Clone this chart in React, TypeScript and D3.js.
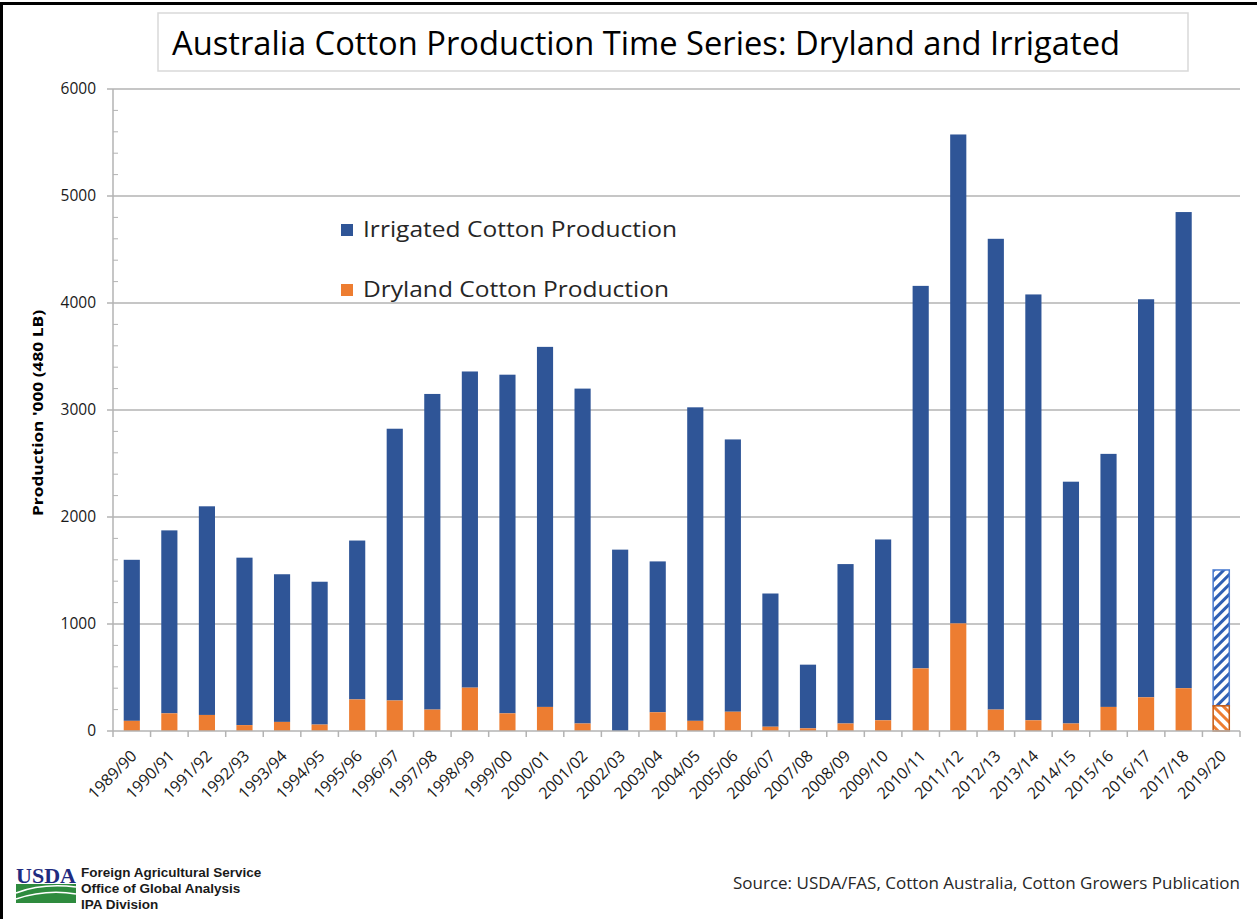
import React from 'react';
import * as d3 from 'd3';

// Australia cotton production, '000 480 lb bales
const seasons = [
  '1989/90', '1990/91', '1991/92', '1992/93', '1993/94', '1994/95', '1995/96', '1996/97',
  '1997/98', '1998/99', '1999/00', '2000/01', '2001/02', '2002/03', '2003/04', '2004/05',
  '2005/06', '2006/07', '2007/08', '2008/09', '2009/10', '2010/11', '2011/12', '2012/13',
  '2013/14', '2014/15', '2015/16', '2016/17', '2017/18', '2019/20',
];
const dryland = [
  95, 165, 150, 55, 85, 60, 295, 285, 200, 405, 165, 225, 70, 0, 175, 95,
  180, 40, 25, 70, 100, 585, 1005, 200, 100, 70, 225, 315, 400, 235,
];
const irrigated = [
  1505, 1710, 1950, 1565, 1380, 1335, 1485, 2540, 2950, 2955, 3165, 3365, 3130, 1695, 1410, 2930,
  2545, 1245, 595, 1490, 1690, 3575, 4570, 4400, 3980, 2260, 2365, 3720, 4450, 1270,
];
const projected = ['2019/20'];
const yTicks = [0, 1000, 2000, 3000, 4000, 5000, 6000];
const legendItems = ['Irrigated Cotton Production', 'Dryland Cotton Production'];

const W = 1257;
const H = 919;
const BLUE = '#2f5597';
const ORANGE = '#ed7d31';
const GRID = '#b3b3b3';
const FONT = "'Open Sans', sans-serif";

const App = () => {
  const x = d3.scaleBand().domain(seasons).range([113, 1240]).paddingInner(0.57).paddingOuter(0.285);
  const y = d3.scaleLinear().domain([0, 6000]).range([731, 89]);
  const minor = d3.range(0, 6001, 200).filter((v) => v % 1000 !== 0);
  const step = x.step();

  return (
    <div style={{ position: 'absolute', left: 0, top: 0 }}>
      <svg width={W} height={H} style={{ display: 'block', background: '#fff' }}>
        <defs>
          <pattern id="hatchBlue" width="7" height="7" patternUnits="userSpaceOnUse" patternTransform="rotate(45)">
            <rect width="7" height="7" fill="#fff" />
            <rect width="3" height="7" fill="#2f5fb3" />
          </pattern>
          <pattern id="hatchOrange" width="7" height="7" patternUnits="userSpaceOnUse" patternTransform="rotate(-45)">
            <rect width="7" height="7" fill="#fff" />
            <rect width="3" height="7" fill={ORANGE} />
          </pattern>
        </defs>

        {/* frame */}
        <line x1={0} x2={W} y1={3.5} y2={3.5} stroke="#000" strokeWidth={3} />
        <line x1={1.5} x2={1.5} y1={2} y2={H} stroke="#000" strokeWidth={3} />

        {/* title */}
        <rect x={158} y={13} width={1030} height={58} fill="#fff" stroke="#d9d9d9" strokeWidth={1.5} />
        <text x={172} y={55} fontFamily={FONT} fontSize={33} fill="#000" textLength={948} lengthAdjust="spacingAndGlyphs">
          Australia Cotton Production Time Series: Dryland and Irrigated
        </text>

        {/* grid + y axis */}
        {yTicks.map((t) => (
          <g key={t}>
            {t > 0 && <line x1={113} x2={1240} y1={y(t)} y2={y(t)} stroke={GRID} strokeWidth={1.5} />}
            <line x1={107} x2={113} y1={y(t)} y2={y(t)} stroke={GRID} strokeWidth={1.5} />
            <text x={96} y={y(t)} dy="0.35em" textAnchor="end" fontFamily={FONT} fontSize={15.5} fill="#1a1a1a">
              {t}
            </text>
          </g>
        ))}
        {minor.map((t) => (
          <line key={t} x1={113} x2={118} y1={y(t)} y2={y(t)} stroke={GRID} strokeWidth={1} />
        ))}
        <line x1={113} x2={113} y1={89} y2={731} stroke={GRID} strokeWidth={1.5} />
        <text
          transform="translate(43,413) rotate(-90)"
          textAnchor="middle"
          fontFamily={FONT}
          fontWeight="bold"
          fontSize={14}
          fill="#000"
          textLength={206}
          lengthAdjust="spacingAndGlyphs"
        >
          Production '000 (480 LB)
        </text>

        {/* bars */}
        {seasons.map((s, i) => {
          const proj = projected.includes(s);
          const x0 = x(s)!;
          const bw = x.bandwidth();
          const yd = y(dryland[i]);
          const yt = y(dryland[i] + irrigated[i]);
          return (
            <g key={s}>
              <rect
                x={x0}
                y={yt}
                width={bw}
                height={yd - yt}
                fill={proj ? 'url(#hatchBlue)' : BLUE}
                stroke={proj ? '#4a7bd0' : 'none'}
                strokeWidth={proj ? 1.5 : 0}
              />
              {dryland[i] > 0 && (
                <rect
                  x={x0}
                  y={yd}
                  width={bw}
                  height={y(0) - yd}
                  fill={proj ? 'url(#hatchOrange)' : ORANGE}
                  stroke={proj ? '#c55a11' : 'none'}
                  strokeWidth={proj ? 1.5 : 0}
                />
              )}
            </g>
          );
        })}

        {/* x axis */}
        <line x1={113} x2={1240} y1={731} y2={731} stroke={GRID} strokeWidth={1.5} />
        {d3.range(seasons.length + 1).map((i) => (
          <line key={i} x1={113 + i * step} x2={113 + i * step} y1={731} y2={737} stroke={GRID} strokeWidth={1.5} />
        ))}
        {seasons.map((s) => (
          <text
            key={s}
            transform={`translate(${x(s)! + x.bandwidth() / 2 + 6},${757}) rotate(-45)`}
            textAnchor="end"
            fontFamily={FONT}
            fontSize={16}
            fill="#1a1a1a"
          >
            {s}
          </text>
        ))}

        {/* legend */}
        {legendItems.map((l, i) => (
          <g key={l}>
            <rect x={341} y={224 + i * 60} width={12} height={12} fill={i === 0 ? BLUE : ORANGE} />
            <text x={363} y={237 + i * 60} fontFamily={FONT} fontSize={22} fill="#262626" textLength={i === 0 ? 314 : 306} lengthAdjust="spacingAndGlyphs">
              {l}
            </text>
          </g>
        ))}

        {/* footer */}
        <g>
          <text x={16} y={883} fontFamily="'Liberation Serif', serif" fontWeight="bold" fontSize={21} fill="#1f2b80" textLength={60} lengthAdjust="spacingAndGlyphs">
            USDA
          </text>
          <rect x={16} y={884} width={60} height={19} fill="#2e8b3e" />
          <path d="M16,893 Q42,883 76,887" fill="none" stroke="#fff" strokeWidth={1.5} />
          <path d="M16,899 Q46,889 76,894" fill="none" stroke="#fff" strokeWidth={1.5} />
        </g>
        {['Foreign Agricultural Service', 'Office of Global Analysis', 'IPA Division'].map((t, i) => (
          <text key={t} x={81} y={877 + i * 16} fontFamily="'Liberation Sans', Arial, sans-serif" fontWeight="bold" fontSize={13.5} fill="#1a1a1a">
            {t}
          </text>
        ))}
        <text x={733} y={889} fontFamily={FONT} fontSize={16} fill="#262626" textLength={507} lengthAdjust="spacingAndGlyphs">
          Source: USDA/FAS, Cotton Australia, Cotton Growers Publication
        </text>
      </svg>
    </div>
  );
};

export default App;
